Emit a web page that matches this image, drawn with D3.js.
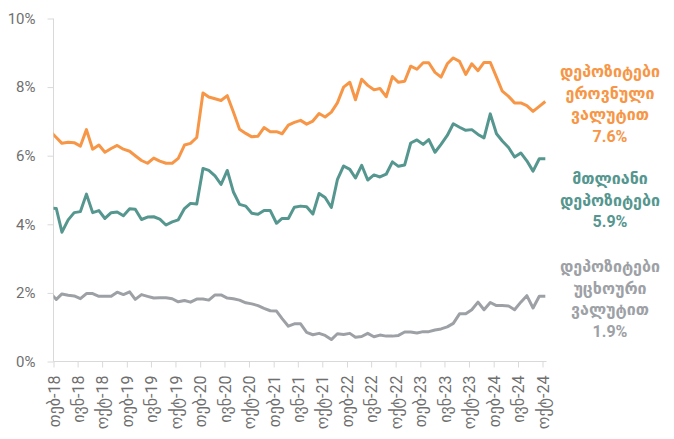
<!DOCTYPE html>
<head>
    <meta charset="utf-8">
    <script src="https://d3js.org/d3.v7.min.js"></script>
    <style>
        *{
            margin:0;
            padding:0;
        }
        body{
            background: #fff;
            font-family: Roboto, 'DejaVu Sans', sans-serif;
        }
        .axis text{
            fill: #6f6f6f;
        }
        .axis path,
        .axis line{
            stroke: #d9d9d9;
        }
    </style>
</head>

<body>
<svg id="viz" width="674" height="439"></svg>

<script>

    //monthly data, jan-18 .. oct-24
    let startMonth = new Date(2018, 0, 1);
    let endMonth = new Date(2024, 10, 1);

    //deposits in national currency
    let national = [
        6.71, 6.53, 6.36, 6.39, 6.38, 6.28, 6.76, 6.19, 6.31, 6.10, 6.21, 6.30,
        6.19, 6.13, 6.00, 5.86, 5.78, 5.93, 5.84, 5.78, 5.78, 5.92, 6.31, 6.36,
        6.53, 7.83, 7.71, 7.66, 7.61, 7.75, 7.28, 6.77, 6.65, 6.55, 6.57, 6.82,
        6.70, 6.70, 6.64, 6.89, 6.97, 7.03, 6.92, 7.01, 7.23, 7.13, 7.27, 7.54,
        8.00, 8.14, 7.63, 8.23, 8.05, 7.92, 7.96, 7.72, 8.31, 8.14, 8.17, 8.61,
        8.52, 8.71, 8.71, 8.43, 8.29, 8.68, 8.85, 8.75, 8.37, 8.68, 8.48, 8.72,
        8.72, 8.29, 7.88, 7.73, 7.54, 7.54, 7.46, 7.29, 7.44, 7.58
    ];

    //total deposits
    let total = [
        4.47, 4.46, 3.77, 4.13, 4.34, 4.37, 4.88, 4.34, 4.40, 4.17, 4.34, 4.36,
        4.25, 4.45, 4.44, 4.14, 4.21, 4.22, 4.15, 3.98, 4.07, 4.13, 4.46, 4.61,
        4.59, 5.63, 5.57, 5.41, 5.16, 5.57, 4.95, 4.58, 4.53, 4.32, 4.29, 4.40,
        4.40, 4.03, 4.17, 4.17, 4.50, 4.53, 4.51, 4.30, 4.90, 4.78, 4.49, 5.30,
        5.70, 5.60, 5.35, 5.72, 5.29, 5.44, 5.38, 5.46, 5.82, 5.69, 5.73, 6.37,
        6.46, 6.33, 6.47, 6.10, 6.33, 6.59, 6.93, 6.83, 6.74, 6.76, 6.62, 6.52,
        7.22, 6.64, 6.43, 6.24, 5.96, 6.08, 5.85, 5.55, 5.91, 5.91
    ];

    //deposits in foreign currency
    let foreign = [
        2.00, 1.81, 1.97, 1.93, 1.91, 1.83, 1.98, 1.98, 1.90, 1.90, 1.90, 2.02,
        1.95, 2.03, 1.81, 1.95, 1.90, 1.85, 1.86, 1.86, 1.83, 1.74, 1.78, 1.73,
        1.82, 1.82, 1.79, 1.94, 1.94, 1.85, 1.83, 1.79, 1.71, 1.68, 1.63, 1.55,
        1.48, 1.47, 1.25, 1.03, 1.10, 1.10, 0.85, 0.78, 0.82, 0.76, 0.64, 0.81,
        0.79, 0.82, 0.71, 0.73, 0.82, 0.72, 0.77, 0.74, 0.74, 0.76, 0.86, 0.86,
        0.83, 0.87, 0.87, 0.92, 0.95, 1.01, 1.11, 1.39, 1.39, 1.51, 1.73, 1.51,
        1.72, 1.63, 1.63, 1.62, 1.51, 1.73, 1.92, 1.56, 1.90, 1.90
    ];

    //x tick labels (every 4 months, from feb-18)
    let tickLabels = [
        "თებ-18", "ივნ-18", "ოქტ-18", "თებ-19", "ივნ-19", "ოქტ-19",
        "თებ-20", "ივნ-20", "ოქტ-20", "თებ-21", "ივნ-21", "ოქტ-21",
        "თებ-22", "ივნ-22", "ოქტ-22", "თებ-23", "ივნ-23", "ოქტ-23",
        "თებ-24", "ივნ-24", "ოქტ-24"
    ];

    let yTicks = [0, 2, 4, 6, 8, 10];

    //series labels on the right
    let series = [
        { name: "national", values: national, color: "#f79646",
          label: ["დეპოზიტები", "ეროვნული", "ვალუტით", "7.6%"], ly: 77 },
        { name: "total", values: total, color: "#55968f",
          label: ["მთლიანი", "დეპოზიტები", "5.9%"], ly: 184 },
        { name: "foreign", values: foreign, color: "#9da1a6",
          label: ["დეპოზიტები", "უცხოური", "ვალუტით", "1.9%"], ly: 272 }
    ];


    let svg = d3.select("svg");

    let mLeft = 53.5, mRight = 542.5, mTop = 18.5, mBottom = 361.5;

    let months = d3.timeMonth.range(startMonth, endMonth);
    let tickDates = tickLabels.map((d, i) => new Date(2018, 1 + 4 * i, 1));

    let x = d3.scaleTime()
        .domain([tickDates[0], tickDates[tickDates.length - 1]])
        .range([mLeft, mRight]);

    let y = d3.scaleLinear()
        .domain([0, 10])
        .range([mBottom, mTop]);

    //points sit mid-month
    let xOf = (d, i) => x(d3.timeDay.offset(months[i], 14));


    //clip at the y axis
    svg.append("clipPath")
        .attr("id", "plot")
        .append("rect")
        .attr("x", mLeft)
        .attr("y", 0)
        .attr("width", 640 - mLeft)
        .attr("height", 439);


    //y axis
    let yAxis = svg.append("g")
        .attr("class", "axis")
        .attr("transform", `translate(${mLeft},0)`)
        .call(d3.axisLeft(y)
            .tickValues(yTicks)
            .tickSize(6)
            .tickPadding(12)
            .tickFormat(d => d + "%"));

    yAxis.select(".domain").attr("d", `M0,${mTop}V${mBottom}`);
    yAxis.selectAll("text")
        .style("font-size", "15px")
        .style("font-family", "Roboto, sans-serif");


    //x axis
    let xAxis = svg.append("g")
        .attr("class", "axis")
        .attr("transform", `translate(0,${mBottom})`)
        .call(d3.axisBottom(x)
            .tickValues(tickDates)
            .tickSize(6)
            .tickSizeOuter(0)
            .tickFormat((d, i) => tickLabels[i]));

    xAxis.select(".domain").attr("d", `M${mLeft},0H${mRight + 4}`);
    xAxis.selectAll("text")
        .attr("transform", "rotate(-90)")
        .attr("text-anchor", "end")
        .attr("x", -14)
        .attr("y", 0)
        .attr("dy", "0.35em")
        .style("font-size", "16px")
        .style("font-family", "Roboto, 'DejaVu Sans', sans-serif");


    //lines
    let line = d3.line()
        .x(xOf)
        .y(d => y(d));

    svg.append("g")
        .attr("clip-path", "url(#plot)")
        .selectAll("path")
        .data(series)
        .enter()
        .append("path")
        .attr("d", d => line(d.values))
        .attr("fill", "none")
        .attr("stroke", d => d.color)
        .attr("stroke-width", 3)
        .attr("stroke-linejoin", "round");


    //labels
    let labels = svg.append("g")
        .selectAll("text")
        .data(series)
        .enter()
        .append("text")
        .attr("text-anchor", "middle")
        .attr("fill", d => d.color)
        .style("font-size", "16px")
        .style("font-weight", "bold")
        .style("font-family", "Roboto, 'DejaVu Sans', sans-serif");

    labels.each(function(d){
        d3.select(this).selectAll("tspan")
            .data(d.label)
            .enter()
            .append("tspan")
            .attr("x", 610)
            .attr("y", (t, i) => d.ly + i * 21.7)
            .text(t => t);
    });

</script>
</body>
